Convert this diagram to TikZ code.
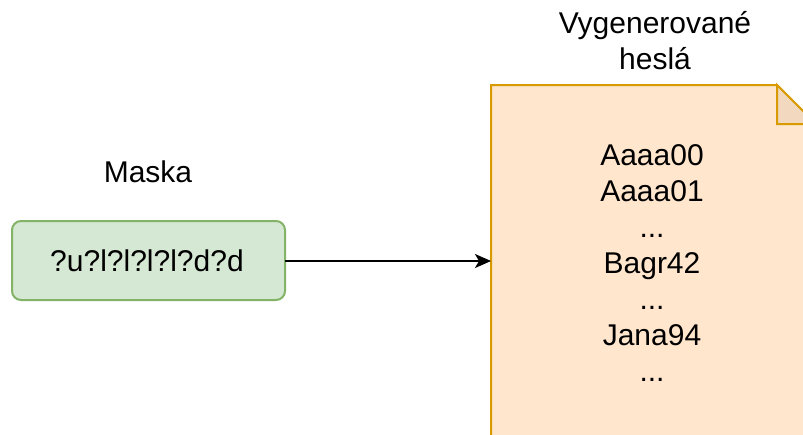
\documentclass[tikz,border=0pt]{standalone}
\usepackage{fontspec}
\setmainfont{Liberation Sans}
\usetikzlibrary{arrows.meta}
\definecolor{maskfill}{HTML}{D5E8D4}
\definecolor{maskline}{HTML}{82B366}
\definecolor{docfill}{HTML}{FFE6CC}
\definecolor{docline}{HTML}{D79B00}
\definecolor{foldfill}{HTML}{F2D8BE}
\tikzset{
  label text/.style={font=\fontsize{30}{36}\selectfont, align=center, inner sep=0pt},
  maskbox/.style={draw=maskline, fill=maskfill, line width=2pt, rounded corners=9pt},
  docline/.style={draw=docline, line width=2pt, line join=miter},
  link/.style={line width=2pt, -{Stealth[length=16pt, width=14pt, inset=4pt]}}
}
\begin{document}
\begin{tikzpicture}[x=1pt, y=-1pt]
  \useasboundingbox (0,0) rectangle (803,434);
  \clip (0,0) rectangle (803,434);
  % mask input
  \node[label text] (masktitle) at (148,172) {Maska};
  \path[maskbox] (12,221) rectangle (285,300);
  \node[label text] (mask) at (147,261) {?u?l?l?l?l?d?d};
  \coordinate (maskright) at (285,261);
  % generated passwords document
  \node[label text] (doctitle) at (655,41) {Vygenerované\\heslá};
  \path[docline, fill=docfill] (491,85) -- (777,85) -- (816,124) -- (816,460) -- (491,460) -- cycle;
  \path[docline, fill=foldfill] (777,85) -- (777,124) -- (816,124) -- cycle;
  \coordinate (docleft) at (491,261);
  \node[label text] (list) at (652,263)
    {Aaaa00\\Aaaa01\\...\\Bagr42\\...\\Jana94\\...};
  % connector
  \draw[link] (maskright) -- (docleft);
\end{tikzpicture}
\end{document}
